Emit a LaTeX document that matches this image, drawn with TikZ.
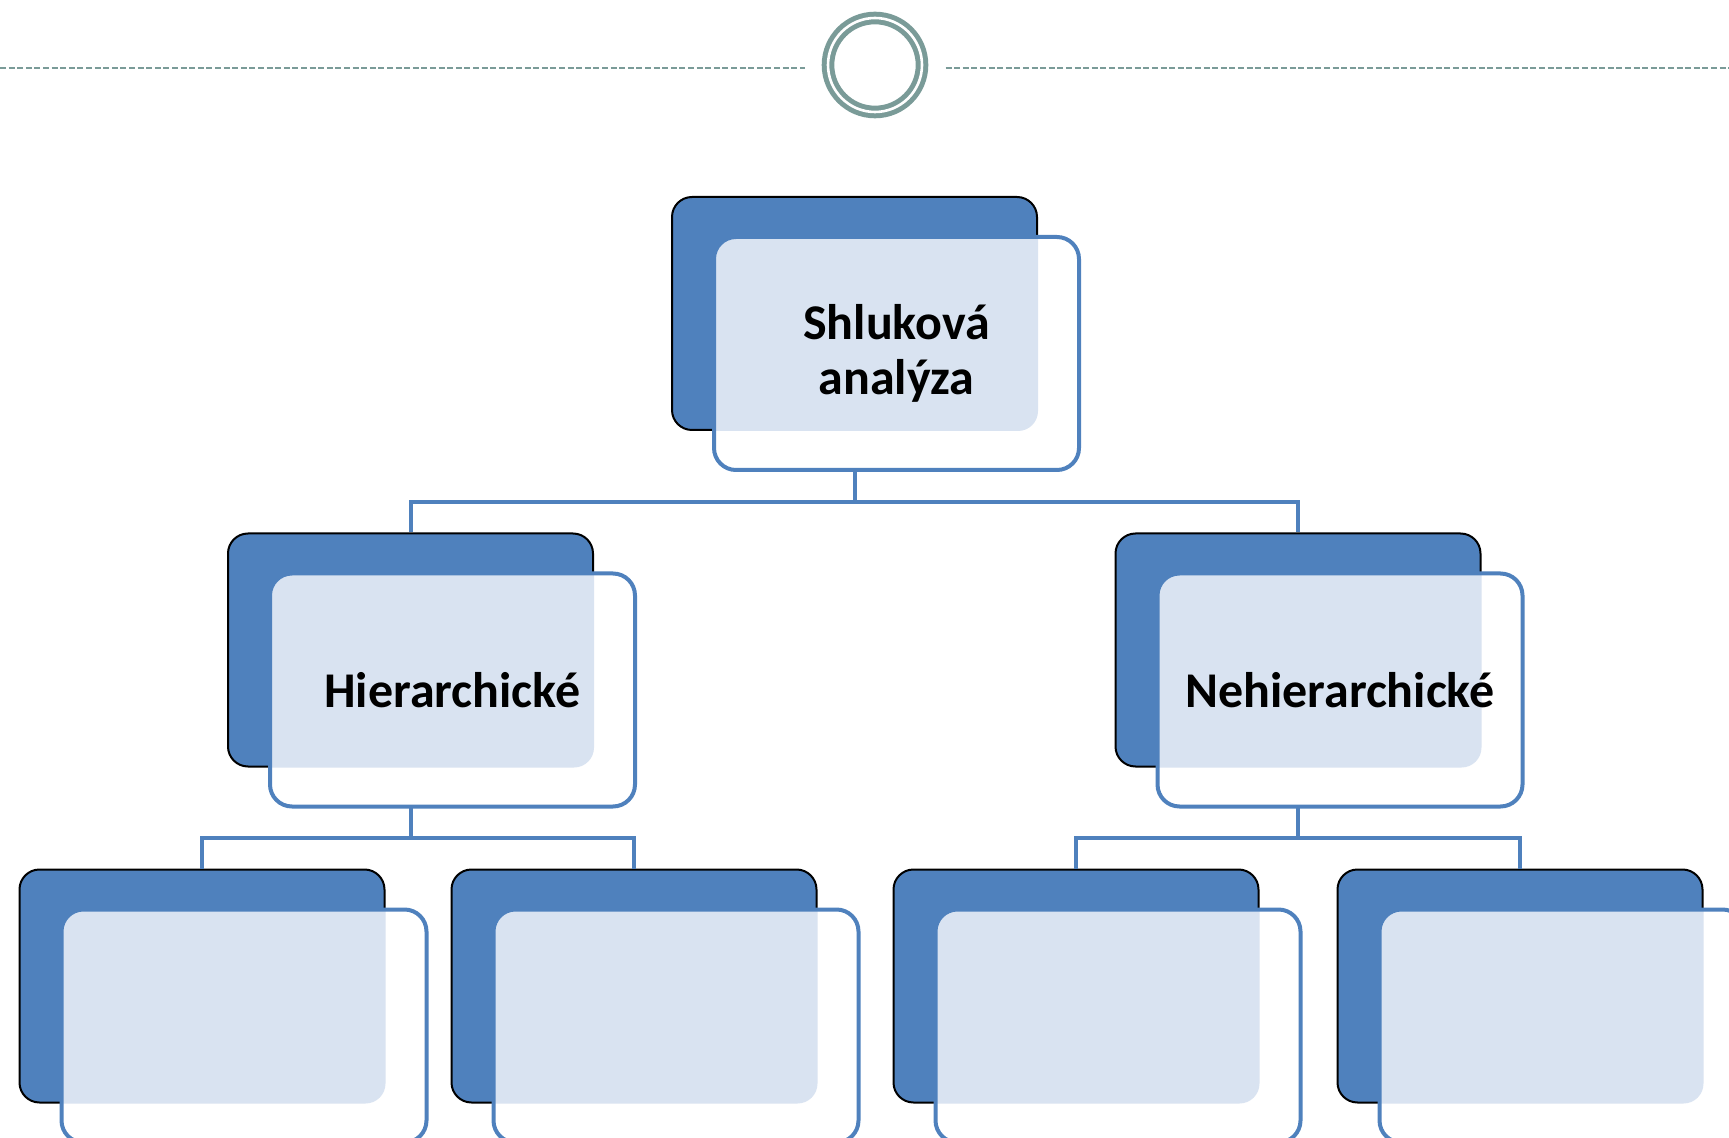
\documentclass[tikz,border=0pt]{standalone}
\usepackage{fontspec}
\setmainfont{Carlito}
\usetikzlibrary{positioning}
\definecolor{officeblue}{RGB}{79,129,189}
\definecolor{ringgray}{RGB}{122,155,152}
\definecolor{dotblue}{RGB}{217,227,241}

\begin{document}
\begin{tikzpicture}[x=0.5pt, y=-0.5pt,
    backbox/.style={draw=black, line width=1pt, fill=officeblue, rounded corners=10pt,
        minimum width=182.5pt, minimum height=116.5pt, inner sep=0pt},
    frontbox/.style={draw=officeblue, line width=2pt, fill=white, rounded corners=11pt,
        minimum width=182.5pt, minimum height=116.5pt, inner sep=0pt, xshift=21pt, yshift=-20pt,
        align=center, font=\bfseries\fontsize{25}{27.5}\selectfont,
        path picture={\fill[dotblue, rounded corners=10pt] (#1.south west) rectangle (#1.north east);}},
    link/.style={draw=officeblue, line width=2pt},
    dashline/.style={draw=ringgray, line width=1pt, dash pattern=on 3pt off 1.3pt}]
    \useasboundingbox (0,0) rectangle (1729,1138);
    \clip (0,0) rectangle (1729,1138);

    \node[circle, draw=ringgray, line width=2.5pt, double=white, double distance=1.3pt,
        minimum size=47pt, inner sep=0pt] (ring) at (875,65) {};
    \draw[dashline] (0,68) -- ([xshift=-10.5pt, yshift=-1.5pt]ring.west);
    \draw[dashline] ([xshift=10.5pt, yshift=-1.5pt]ring.east) -- (1729,68);

    \node[backbox] (analyzaB) at (854.5,313.5) {};
    \node[backbox] (hierB) at (410.5,650) {};
    \node[backbox] (nehierB) at (1298,650) {};
    \node[backbox] (hier1B) at (202,986) {};
    \node[backbox] (hier2B) at (634,986) {};
    \node[backbox] (nehier1B) at (1076,986) {};
    \node[backbox] (nehier2B) at (1520,986) {};

    \coordinate (split0) at (854.5,502);
    \coordinate (split1) at (410.5,838);
    \coordinate (split2) at (1298,838);
    \draw[link] (analyzaB.south) -- (split0) -| (hierB.north);
    \draw[link] (split0) -| (nehierB.north);
    \draw[link] (hierB.south) -- (split1) -| (hier1B.north);
    \draw[link] (split1) -| (hier2B.north);
    \draw[link] (nehierB.south) -- (split2) -| (nehier1B.north);
    \draw[link] (split2) -| (nehier2B.north);

    \node[frontbox=analyzaB] (analyza) at (analyzaB) {Shluková\\analýza};
    \node[frontbox=hierB] (hier) at (hierB) {Hierarchické};
    \node[frontbox=nehierB] (nehier) at (nehierB) {Nehierarchické};
    \node[frontbox=hier1B] (hier1) at (hier1B) {};
    \node[frontbox=hier2B] (hier2) at (hier2B) {};
    \node[frontbox=nehier1B] (nehier1) at (nehier1B) {};
    \node[frontbox=nehier2B] (nehier2) at (nehier2B) {};
\end{tikzpicture}
\end{document}
